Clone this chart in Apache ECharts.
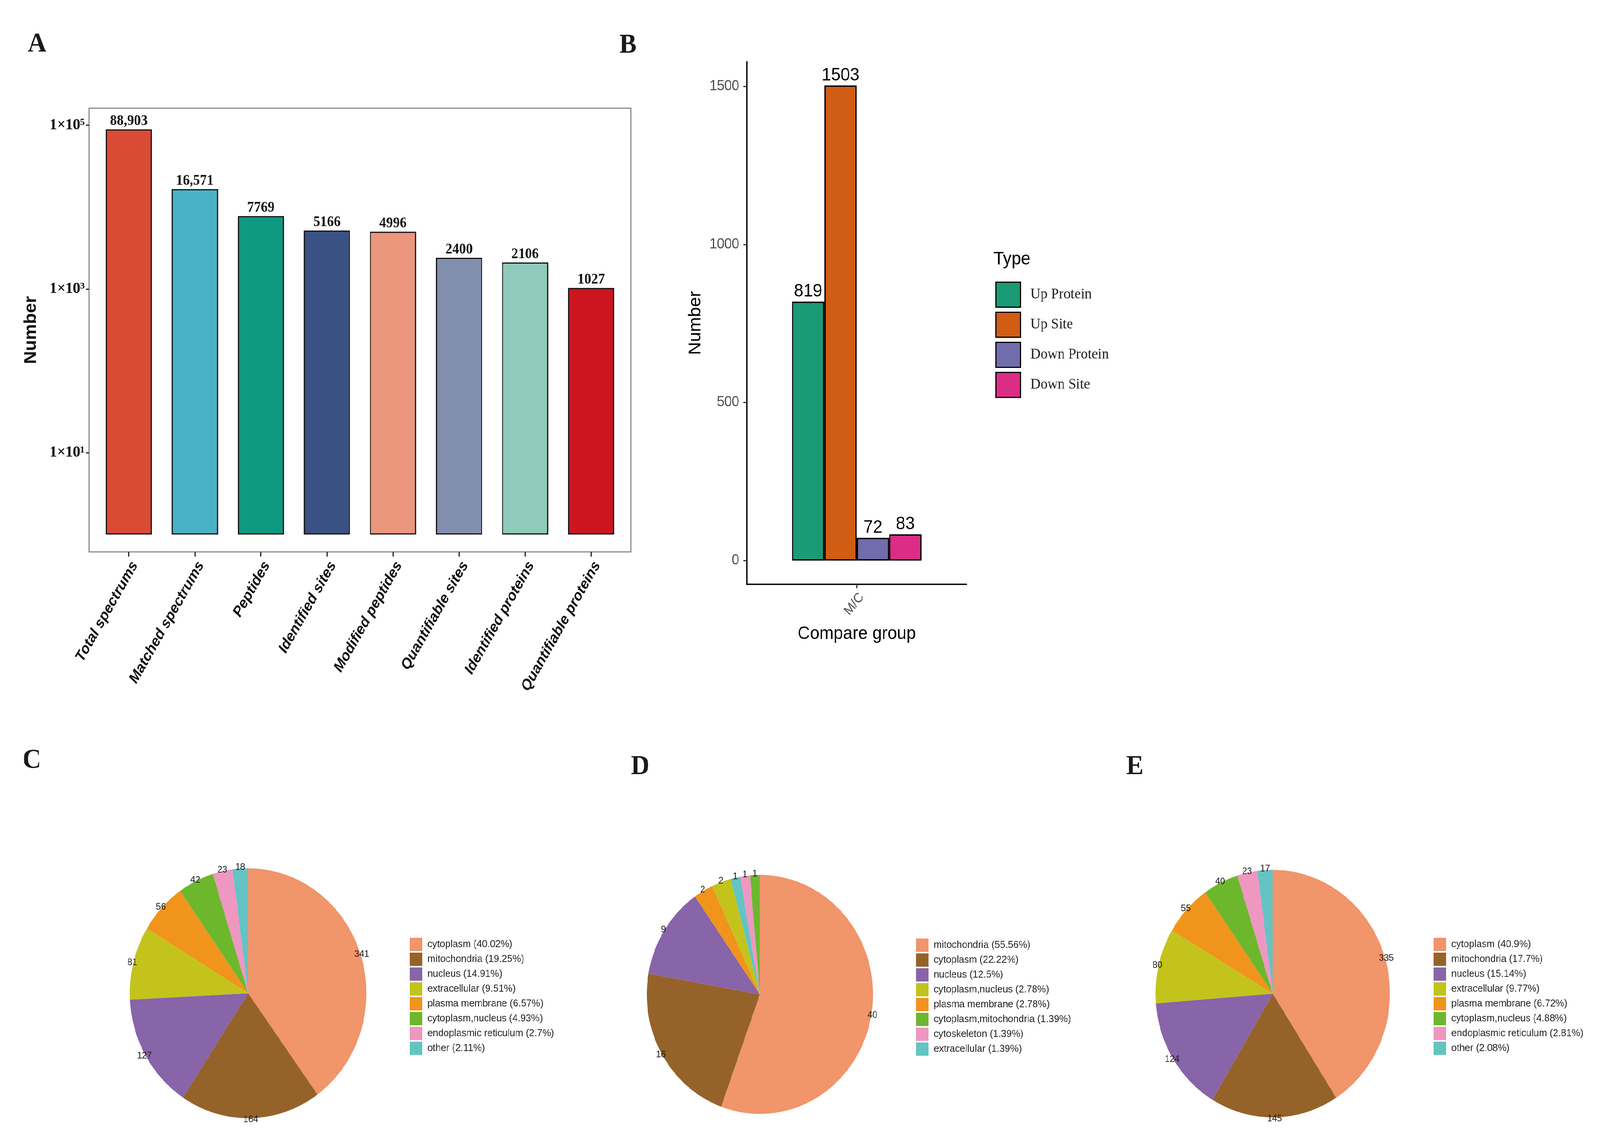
<!DOCTYPE html>
<html>
<head>
<meta charset="utf-8">
<title>Phosphoproteome summary</title>
<script src="https://cdn.jsdelivr.net/npm/echarts@6/dist/echarts.min.js"></script>
<style>
    html, body { margin: 0; padding: 0; background: #fff; overflow: hidden; }
    #page { position: relative; width: 4327px; height: 2929px; background: #fff; transform-origin: 0 0; }
    .panel { position: absolute; }
</style>
</head>
<body>
<div id="page">
    <div id="topPanels" class="panel" style="left:0;top:0;width:4327px;height:1880px"></div>
    <div id="pieC" class="panel" style="left:0;top:1880px;width:1500px;height:1049px"></div>
    <div id="pieD" class="panel" style="left:1500px;top:1880px;width:1400px;height:1049px"></div>
    <div id="pieE" class="panel" style="left:2900px;top:1880px;width:1427px;height:1049px"></div>
</div>
<script>
// panel A : identification counts (log scale)
const countCategories = ['Total spectrums', 'Matched spectrums', 'Peptides', 'Identified sites',
    'Modified peptides', 'Quantifiable sites', 'Identified proteins', 'Quantifiable proteins'];
const countValues = [88903, 16571, 7769, 5166, 4996, 2400, 2106, 1027];
const countColors = ['#d94b35', '#4bb2c6', '#0e9a80', '#3a5183', '#ea977e', '#828faf', '#8fcabb', '#cd1520'];
const countTickValues = [10, 1000, 100000];
const countTickLabels = ['1×10¹', '1×10³', '1×10⁵'];

// panel B : differentially changed proteins / sites
const compareGroups = ['M/C'];
const changeTypes = ['Up Protein', 'Up Site', 'Down Protein', 'Down Site'];
const changeValues = [819, 1503, 72, 83];
const changeColors = ['#1b9a76', '#d15c14', '#716dac', '#db2c86'];
const changeTicks = [0, 500, 1000, 1500];

// panels C, D, E : subcellular location
const locationColors = ['#f1956a', '#95632a', '#8864a8', '#c4c31c', '#f0941c', '#6db72d', '#ee97c1', '#64c3c3'];

const locNamesC = ['cytoplasm', 'mitochondria', 'nucleus', 'extracellular', 'plasma membrane',
    'cytoplasm,nucleus', 'endoplasmic reticulum', 'other'];
const locValuesC = [341, 164, 127, 81, 56, 42, 23, 18];

// D: slices are drawn in a different order than the legend lists them
const locNamesD = ['mitochondria', 'cytoplasm', 'nucleus', 'plasma membrane', 'cytoplasm,nucleus',
    'extracellular', 'cytoskeleton', 'cytoplasm,mitochondria'];
const locValuesD = [40, 16, 9, 2, 2, 1, 1, 1];
const locLegendD = ['mitochondria', 'cytoplasm', 'nucleus', 'cytoplasm,nucleus', 'plasma membrane',
    'cytoplasm,mitochondria', 'cytoskeleton', 'extracellular'];

const locNamesE = ['cytoplasm', 'mitochondria', 'nucleus', 'extracellular', 'plasma membrane',
    'cytoplasm,nucleus', 'endoplasmic reticulum', 'other'];
const locValuesE = [335, 145, 124, 80, 55, 40, 23, 17];

const SERIF = 'Liberation Serif';
const SANS = 'Liberation Sans';
const PAGE_W = 4327;
const PAGE_H = 2929;

// the layout is drawn for 4327x2929; stretch it onto whatever the window really is
function fitPage() {
    var sx = window.innerWidth / PAGE_W;
    var sy = window.innerHeight / PAGE_H;
    document.getElementById('page').style.transform = 'scale(' + sx + ',' + sy + ')';
}

function letter(text, left, top) {
    return {
        text: text, left: left, top: top, padding: 0,
        textStyle: { fontFamily: SERIF, fontWeight: 'bold', fontSize: 70, color: '#1a1a1a' }
    };
}

function withCommas(v) {
    return v >= 10000 ? String(v).replace(/\B(?=(\d{3})+(?!\d))/g, ',') : String(v);
}

function initTopPanels() {
    var dom = document.getElementById('topPanels');
    var chart = echarts.init(dom, null, { renderer: 'canvas' });

    const changeSeries = changeTypes.map(function (t, i) {
        return {
            name: t,
            type: 'bar',
            xAxisIndex: 1,
            yAxisIndex: 1,
            data: [changeValues[i]],
            barGap: '0%',
            barCategoryGap: '41%',
            itemStyle: { color: changeColors[i], borderColor: '#000', borderWidth: 3.5 },
            label: {
                show: true, position: 'top', distance: 3,
                fontFamily: SANS, fontSize: 46, color: '#000'
            }
        };
    });

    const option = {
        animation: false,
        backgroundColor: '#fff',
        title: [
            letter('A', 75, 79),
            letter('B', 1675, 82),
            {
                text: 'Type', left: 2687, top: 641, padding: 0,
                textStyle: { fontFamily: SANS, fontWeight: 'normal', fontSize: 46, color: '#000' }
            }
        ],
        legend: {
            data: changeTypes,
            orient: 'vertical',
            left: 2687,
            top: 716,
            itemWidth: 66,
            itemHeight: 64,
            itemGap: 10,
            icon: 'rect',
            itemStyle: { borderColor: '#000', borderWidth: 3 },
            textStyle: { fontFamily: SERIF, fontSize: 38, color: '#222', padding: [0, 0, 0, 22] }
        },
        grid: [
            // bars of A (inset like ggplot's discrete expansion)
            { left: 259, top: 277, width: 1429, height: 1136, outerBoundsMode: 'none' },
            // frame of A
            {
                left: 241, top: 277, width: 1465, height: 1136, show: true,
                borderColor: '#8a8a8a', borderWidth: 3, backgroundColor: '#fff', outerBoundsMode: 'none'
            },
            // B
            { left: 2020, top: 158, width: 594, height: 1338, outerBoundsMode: 'none' }
        ],
        xAxis: [
            {
                gridIndex: 0,
                type: 'category',
                data: countCategories,
                axisLine: { show: false },
                axisTick: { show: true, alignWithLabel: true, length: 12, lineStyle: { color: '#222', width: 3 } },
                axisLabel: {
                    interval: 0, rotate: 59, margin: 18, align: 'right', verticalAlign: 'top',
                    fontFamily: SANS, fontWeight: 'bold', fontStyle: 'italic', fontSize: 38, color: '#111'
                },
                splitLine: { show: false }
            },
            {
                gridIndex: 2,
                type: 'category',
                data: compareGroups,
                axisLine: { show: true, onZero: false, lineStyle: { color: '#000', width: 3.5 } },
                axisTick: { show: true, alignWithLabel: true, length: 10, lineStyle: { color: '#333', width: 3 } },
                axisLabel: {
                    rotate: 50, margin: 16, align: 'right', verticalAlign: 'top',
                    fontFamily: SANS, fontSize: 34, color: '#4d4d4d'
                },
                name: 'Compare group',
                nameLocation: 'middle',
                nameGap: 104,
                nameMoveOverlap: false,
                nameTextStyle: { fontFamily: SANS, fontSize: 46, color: '#000' }
            }
        ],
        yAxis: [
            {
                gridIndex: 0,
                type: 'log',
                logBase: 10,
                min: 0.614,
                max: 161400,
                offset: 18,
                axisLine: { show: false },
                axisTick: { show: true, length: 9, customValues: countTickValues, lineStyle: { color: '#222', width: 3 } },
                axisLabel: {
                    customValues: countTickValues,
                    margin: 12,
                    fontFamily: SERIF, fontWeight: 'bold', fontSize: 40, color: '#111',
                    formatter: function (v) {
                        const i = countTickValues.findIndex(function (t) { return Math.abs(t - v) / t < 1e-6; });
                        return i >= 0 ? countTickLabels[i] : '';
                    }
                },
                splitLine: { show: false },
                name: 'Number',
                nameLocation: 'middle',
                nameGap: 134,
                nameMoveOverlap: false,
                nameTextStyle: { fontFamily: SANS, fontWeight: 'bold', fontSize: 46, color: '#111' }
            },
            {
                gridIndex: 2,
                type: 'value',
                min: -75.15,
                max: 1578.15,
                axisLine: { show: true, onZero: false, lineStyle: { color: '#000', width: 3.5 } },
                axisTick: { show: true, length: 10, customValues: changeTicks, lineStyle: { color: '#333', width: 3 } },
                axisLabel: {
                    customValues: changeTicks, margin: 21, fontFamily: SANS, fontSize: 36, color: '#4d4d4d',
                    formatter: function (v) { return String(v); }
                },
                splitLine: { show: false },
                name: 'Number',
                nameLocation: 'middle',
                nameGap: 116,
                nameMoveOverlap: false,
                nameTextStyle: { fontFamily: SANS, fontSize: 46, color: '#000' }
            }
        ],
        series: [
            {
                name: 'Number',
                type: 'bar',
                xAxisIndex: 0,
                yAxisIndex: 0,
                barWidth: '70%',
                data: countValues.map(function (v, i) {
                    return { value: v, itemStyle: { color: countColors[i] } };
                }),
                itemStyle: { borderColor: '#111', borderWidth: 3 },
                label: {
                    show: true, position: 'top', distance: 2,
                    fontFamily: SERIF, fontWeight: 'bold', fontSize: 37, color: '#111',
                    formatter: function (p) { return withCommas(p.value); }
                }
            }
        ].concat(changeSeries)
    };

    chart.setOption(option);
}

function initLocationPie(domId, tag, names, values, legendOrder, layout) {
    var dom = document.getElementById(domId);
    var chart = echarts.init(dom, null, { renderer: 'canvas' });

    const total = values.reduce(function (a, b) { return a + b; }, 0);
    const colorOf = function (name) { return locationColors[legendOrder.indexOf(name)]; };

    const sliceData = names.map(function (n, i) {
        return { name: n, value: values[i], itemStyle: { color: colorOf(n) } };
    });
    // transparent twice-as-large copy: its "inside" labels land on the rim of the real pie
    const rimData = names.map(function (n, i) {
        return { name: n, value: values[i], itemStyle: { color: 'rgba(0,0,0,0)' } };
    });

    chart.setOption({
        animation: false,
        backgroundColor: 'transparent',
        title: letter(tag, layout.tagLeft, layout.tagTop),
        legend: {
            data: legendOrder.map(function (n) { return { name: n, itemStyle: { color: colorOf(n) } }; }),
            orient: 'vertical',
            left: layout.legendLeft,
            top: layout.legendTop,
            itemWidth: 34,
            itemHeight: 34,
            itemGap: 4,
            icon: 'rect',
            selectedMode: false,
            textStyle: { fontFamily: SANS, fontSize: 26, color: '#222', padding: [0, 0, 0, 9] },
            formatter: function (name) {
                const v = values[names.indexOf(name)];
                return name + ' (' + (+(v / total * 100).toFixed(2)) + '%)';
            }
        },
        series: [
            {
                type: 'pie',
                center: [layout.cx, layout.cy],
                radius: layout.r,
                startAngle: 90,
                clockwise: true,
                data: sliceData,
                label: { show: false },
                labelLine: { show: false },
                emphasis: { scale: false }
            },
            {
                type: 'pie',
                center: [layout.cx, layout.cy],
                radius: layout.r * 2,
                startAngle: 90,
                clockwise: true,
                silent: true,
                data: rimData,
                label: {
                    show: true, position: 'inside', formatter: '{c}',
                    fontFamily: SANS, fontSize: 24, color: '#1a1a1a'
                },
                labelLine: { show: false }
            }
        ]
    });
}

fitPage();
initTopPanels();
initLocationPie('pieC', 'C', locNamesC, locValuesC, locNamesC,
    { cx: 671, cy: 663, r: 320, legendLeft: 1103, legendTop: 516, tagLeft: 61, tagTop: 33 });
initLocationPie('pieD', 'D', locNamesD, locValuesD, locLegendD,
    { cx: 555, cy: 666, r: 306, legendLeft: 972, legendTop: 518, tagLeft: 206, tagTop: 49 });
initLocationPie('pieE', 'E', locNamesE, locValuesE, locNamesE,
    { cx: 542, cy: 664, r: 317, legendLeft: 972, legendTop: 516, tagLeft: 146, tagTop: 49 });
</script>
</body>
</html>
